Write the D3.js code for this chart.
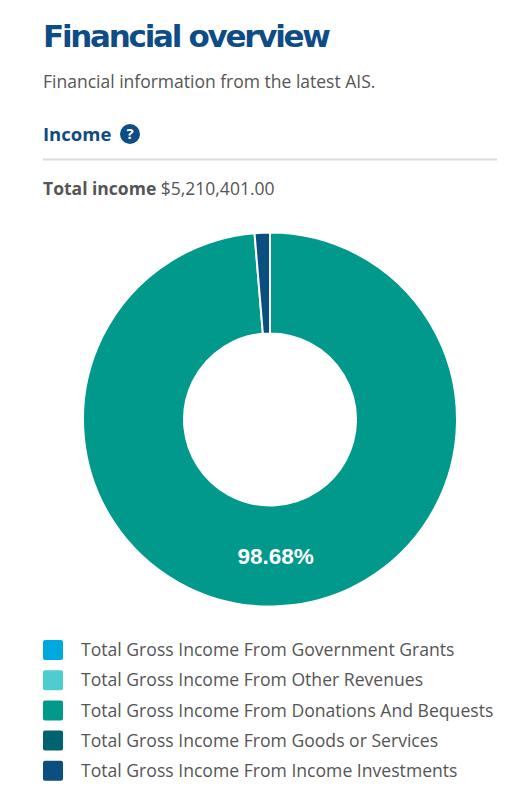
<!DOCTYPE html>
<html>
<head>
<meta charset="utf-8">
<script src="https://cdn.jsdelivr.net/npm/d3@7"></script>
<style>
  body { margin: 0; background: #fff; font-family: "Open Sans", sans-serif; }
  svg { display: block; }
</style>
</head>
<body>
<svg id="chart" width="527" height="799"></svg>
<script>
const categories = [
  'Total Gross Income From Government Grants',
  'Total Gross Income From Other Revenues',
  'Total Gross Income From Donations And Bequests',
  'Total Gross Income From Goods or Services',
  'Total Gross Income From Income Investments'
];
const amounts = [0, 0, 5141624, 0, 68777];
const colours = ['#00a8e0', '#4ecdd1', '#00998b', '#00626f', '#0b4e80'];
const totalIncome = 5210401;

const svg = d3.select('#chart');
const blue = '#0e4c85', grey = '#555';

// header
svg.append('text').attr('x', 43).attr('y', 47)
  .style('font-family', '"DejaVu Sans", sans-serif').style('font-weight', 700)
  .style('font-size', '31px').attr('fill', blue).attr('textLength', 288)
  .text('Financial overview');
svg.append('text').attr('x', 43).attr('y', 88)
  .style('font-size', '17.5px').attr('fill', grey)
  .text('Financial information from the latest AIS.');
svg.append('text').attr('x', 43).attr('y', 141)
  .style('font-size', '18.5px').style('font-weight', 700).attr('fill', blue)
  .text('Income');
const help = svg.append('g').attr('transform', 'translate(130,134)');
help.append('circle').attr('r', 10).attr('fill', blue);
help.append('text').attr('text-anchor', 'middle').attr('dy', '0.36em')
  .style('font-size', '15px').style('font-weight', 700).attr('fill', '#fff').text('?');
svg.append('line').attr('x1', 43).attr('x2', 497).attr('y1', 159.5).attr('y2', 159.5)
  .attr('stroke', '#dcdcdc').attr('stroke-width', 2);
const tot = svg.append('text').attr('x', 43).attr('y', 195)
  .style('font-size', '17.5px').attr('fill', grey);
tot.append('tspan').style('font-weight', 700).text('Total income ');
tot.append('tspan').text(d3.format('$,.2f')(totalIncome));

// donut
const data = categories.map((c, i) => ({ name: c, value: amounts[i], colour: colours[i] }));
const pie = d3.pie().sort(null).value(d => d.value);
const arc = d3.arc().innerRadius(86).outerRadius(187);
const g = svg.append('g').attr('transform', 'translate(270,419.5)');
const arcs = pie(data).filter(d => d.value > 0);
g.selectAll('path').data(arcs).enter().append('path')
  .attr('d', arc).attr('fill', d => d.data.colour)
  .attr('stroke', '#fff').attr('stroke-width', 2);
g.selectAll('text.pct').data(arcs.filter(d => d.value / totalIncome > 0.05)).enter().append('text')
  .attr('class', 'pct')
  .attr('transform', d => `translate(${arc.centroid(d)})`)
  .attr('text-anchor', 'middle').attr('dy', '0.35em')
  .style('font-family', '"Liberation Sans", Arial, sans-serif').style('font-weight', 700)
  .style('font-size', '22.5px').attr('fill', '#fff')
  .text(d => d3.format('.2%')(d.value / totalIncome));

// legend
const y = d3.scaleBand().domain(categories).range([640, 791]).paddingInner(0);
const leg = svg.append('g').selectAll('g').data(data).enter().append('g')
  .attr('transform', d => `translate(43,${y(d.name)})`);
leg.append('rect').attr('width', 20).attr('height', 20).attr('rx', 2).attr('fill', d => d.colour);
leg.append('text').attr('x', 38).attr('y', 10).attr('dy', '0.35em')
  .style('font-size', '17.6px').attr('fill', grey).text(d => d.name);
</script>
</body>
</html>
